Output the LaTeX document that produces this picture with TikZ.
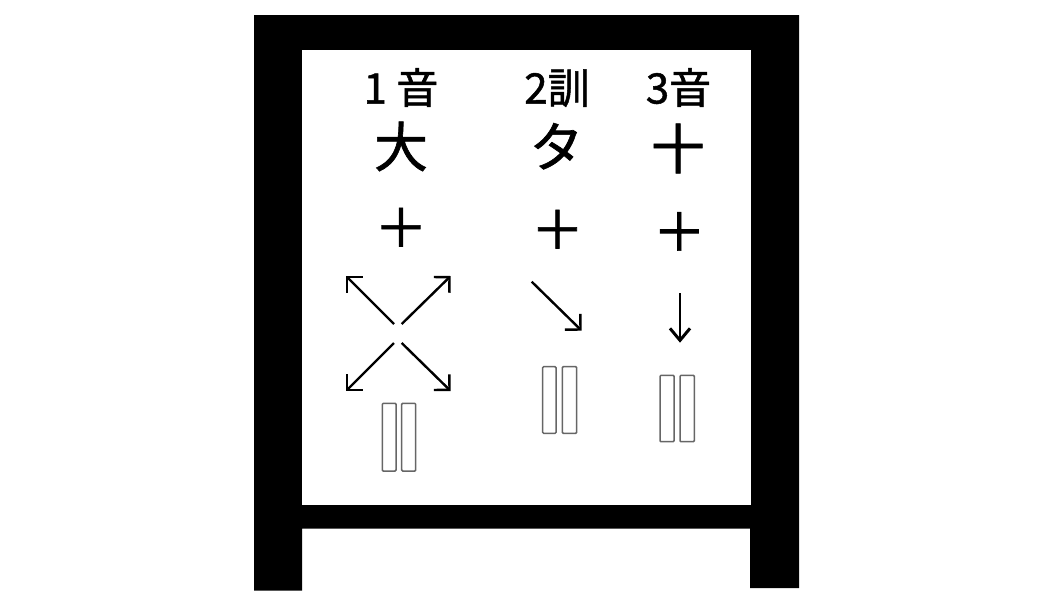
\documentclass[tikz,border=0pt]{standalone}
\usepackage{fontspec}
\newfontfamily\jpfont{Noto Sans CJK JP}
\newfontfamily\jpfontb[FakeBold=1.2]{Noto Sans CJK JP}
\usetikzlibrary{arrows.meta}
\begin{document}
\begin{tikzpicture}[x=1pt,y=-1pt,
  lbl/.style={font=\jpfontb\fontsize{42}{42}\selectfont, inner sep=0pt, anchor=base},
  kan/.style={font=\jpfontb\fontsize{54}{54}\selectfont, inner sep=0pt, anchor=base},
  plus/.style={font=\jpfontb\fontsize{53}{53}\selectfont, inner sep=0pt, anchor=center},
  arr/.style={line width=2.4pt, -{Straight Barb[length=11pt,width=22pt,line width=2.4pt]}},
  darr/.style={line width=2.6pt, -{Straight Barb[length=12pt,width=20pt,line width=3pt]}},
  slot/.style={draw=black!60, line width=1.5pt, rounded corners=1pt}]
\useasboundingbox (0,0) rectangle (1060,600);
\fill[white] (0,0) rectangle (1060,600);
% frame
\fill[black] (254,15) -- (799,15) -- (799,588) -- (750,588) -- (750,528.5)
  -- (302,528.5) -- (302,590.5) -- (254,590.5) -- cycle;
\fill[white] (302,50) rectangle (751,505);
% headings
\node[lbl] (h1) at (401,103.5) {1 音};
\node[lbl] (h2) at (557,103.5) {2訓};
\node[lbl] (h3) at (678.5,103.5) {3音};
% characters
\node[kan] (c1) at (401,167) {大};
\node[kan] (c2) at (556.5,167) {タ};
\node[kan] (c3) at (678,169) {十};
% plus signs
\node[plus] (p1) at (401,227.5) {＋};
\node[plus] (p2) at (557.5,229.5) {＋};
\node[plus] (p3) at (679.3,231.7) {＋};
% arrows column 1
\coordinate (o1) at (394,324);
\coordinate (o2) at (401.7,324);
\coordinate (o3) at (394,343);
\coordinate (o4) at (401.7,343);
\coordinate (t1) at (346,276);
\coordinate (t2) at (450.7,276);
\coordinate (t3) at (346,391);
\coordinate (t4) at (450.7,391);
\draw[arr] (o1) -- (t1);
\draw[arr] (o2) -- (t2);
\draw[arr] (o3) -- (t3);
\draw[arr] (o4) -- (t4);
% arrow column 2
\coordinate (s2) at (531.7,281.7);
\coordinate (e2) at (581.7,330.7);
\draw[arr] (s2) -- (e2);
% arrow column 3
\coordinate (s3) at (680,293.3);
\coordinate (e3) at (680,342.7);
\draw[darr] (s3) -- (e3);
% slots
\draw[slot] (382.3,403.3) rectangle (396,471);
\draw[slot] (401.7,403.3) rectangle (415.7,471);
\draw[slot] (542.7,366.7) rectangle (556,433.3);
\draw[slot] (562.3,366.7) rectangle (576.7,433.3);
\draw[slot] (660,375.3) rectangle (674,441.7);
\draw[slot] (680,375.3) rectangle (694.3,441.7);
\end{tikzpicture}
\end{document}
